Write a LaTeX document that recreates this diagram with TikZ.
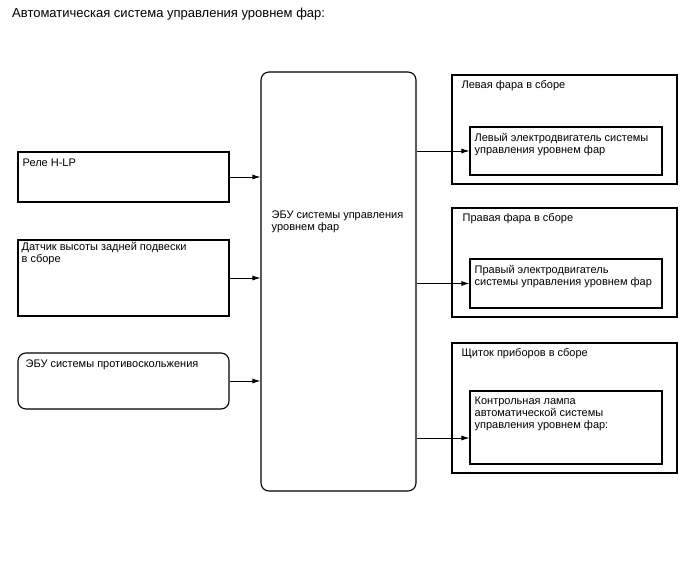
\documentclass[tikz,border=0pt]{standalone}
\usepackage{fontspec}
\setmainfont{Liberation Sans}
\usetikzlibrary{arrows.meta,positioning}

\begin{document}
\begin{tikzpicture}[
    x=1pt, y=-1pt,
    box/.style={draw=black, line width=1.1pt, inner sep=0pt},
    rbox/.style={box, rounded corners=8pt},
    txt/.style={inner sep=0pt, anchor=north west, align=left,
                font=\fontsize{11}{12}\selectfont},
    arr/.style={-{Latex[length=8pt,width=5pt]}, line width=0.8pt}
]
\useasboundingbox (0,0) rectangle (688,560);

\node[txt, font=\fontsize{13}{15}\selectfont] (title) at (12,8) {Автоматическая система управления уровнем фар:};

% inputs
\node[box, minimum width=211pt, minimum height=50pt] (relay) at (123.5,177) {};
\node[box, minimum width=211pt, minimum height=76pt] (sensor) at (123.5,278) {};
\node[rbox, minimum width=211pt, minimum height=56pt] (abs) at (123.5,381) {};
\node[txt] (relay-t) at ([shift={(5,7)}]relay.north west) {Реле H-LP};
\node[txt] (sensor-t) at ([shift={(4,3)}]sensor.north west) {Датчик высоты задней подвески\\в сборе};
\node[txt] (abs-t) at ([shift={(8,7)}]abs.north west) {ЭБУ системы противоскольжения};

% ECU
\node[rbox, minimum width=155pt, minimum height=419pt] (ecu) at (338.5,281.5) {};
\node[txt] (ecu-t) at ([shift={(11,139)}]ecu.north west) {ЭБУ системы управления\\уровнем фар};

% outputs
\node[box, minimum width=225pt, minimum height=109pt] (lhl) at (564.5,129.5) {};
\node[box, minimum width=192pt, minimum height=48pt] (lmotor) at (566,151) {};
\node[txt] (lhl-t) at ([shift={(10,6)}]lhl.north west) {Левая фара в сборе};
\node[txt] (lmotor-t) at ([shift={(5,7)}]lmotor.north west) {Левый электродвигатель системы\\управления уровнем фар};

\node[box, minimum width=225pt, minimum height=109pt] (rhl) at (564.5,262.5) {};
\node[box, minimum width=192pt, minimum height=49pt] (rmotor) at (566,283.5) {};
\node[txt] (rhl-t) at ([shift={(11,6)}]rhl.north west) {Правая фара в сборе};
\node[txt] (rmotor-t) at ([shift={(5,7)}]rmotor.north west) {Правый электродвигатель\\системы управления уровнем фар};

\node[box, minimum width=225pt, minimum height=130pt] (meter) at (564.5,408) {};
\node[box, minimum width=192pt, minimum height=73pt] (lamp) at (566,427.5) {};
\node[txt] (meter-t) at ([shift={(10,6)}]meter.north west) {Щиток приборов в сборе};
\node[txt] (lamp-t) at ([shift={(5,6)}]lamp.north west) {Контрольная лампа\\автоматической системы\\управления уровнем фар:};
\coordinate (lamp-in) at ([yshift=-10.5pt]lamp.west);

\draw[arr] (relay.east) -- (relay.east -| ecu.west);
\draw[arr] (sensor.east) -- (sensor.east -| ecu.west);
\draw[arr] (abs.east) -- (abs.east -| ecu.west);
\draw[arr] (ecu.east |- lmotor.west) -- (lmotor.west);
\draw[arr] (ecu.east |- rmotor.west) -- (rmotor.west);
\draw[arr] (ecu.east |- lamp-in) -- (lamp-in);
\end{tikzpicture}
\end{document}
